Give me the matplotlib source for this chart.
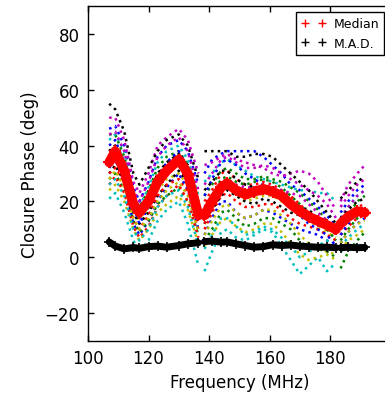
import numpy as np
import matplotlib
matplotlib.use("Agg")
import matplotlib.pyplot as plt
from matplotlib.lines import Line2D

# Frecuencias de anclaje (MHz) por sub-banda
freq_a = [107, 109, 112, 115, 117, 120, 123, 126, 130, 133, 136.5]
freq_b = [138.5, 141, 144, 146, 149, 152, 155, 158, 161, 164, 167, 170, 173, 176, 179, 182]
freq_c = [183.5, 186, 189, 191.5]

# Fases de cierre (grados), orden de color b g r c m y k
tri_b1 = [46, 47, 40, 25, 20, 27, 36, 40, 42, 38, 26, 30, 35, 37, 38, 38, 38, 38, 36, 33, 30, 26, 24, 21, 18, 15, 11, 16, 20, 24, 26]
tri_g1 = [44, 44, 36, 22, 18, 24, 32, 36, 38, 33, 20, 22, 26, 31, 32, 30, 28, 28, 29, 28, 27, 25, 23, 20, 17, 13, 9, 10, 15, 20, 22]
tri_r1 = [38, 40, 33, 20, 16, 22, 30, 33, 37, 32, 18, 20, 24, 30, 31, 28, 26, 26, 27, 26, 24, 22, 19, 16, 14, 12, 10, 12, 15, 18, 19]
tri_c1 = [42, 44, 38, 22, 18, 25, 34, 38, 40, 35, 22, 27, 30, 34, 35, 33, 31, 29, 28, 27, 26, 25, 24, 24, 23, 23, 20, 14, 18, 22, 24]
tri_m1 = [50, 50, 42, 27, 23, 30, 40, 43, 46, 42, 30, 33, 34, 36, 37, 35, 34, 33, 32, 30, 29, 30, 31, 30, 27, 22, 17, 20, 26, 30, 33]
tri_y1 = [34, 36, 29, 17, 13, 17, 24, 28, 30, 26, 14, 14, 19, 24, 25, 22, 20, 21, 22, 22, 20, 18, 15, 13, 11, 9, 7, 11, 14, 17, 18]
tri_k1 = [55, 53, 45, 30, 26, 32, 38, 42, 44, 40, 28, 38, 38, 38, 38, 36, 36, 37, 37, 36, 33, 30, 27, 24, 20, 16, 12, 21, 24, 27, 29]
tri_b2 = [32, 35, 27, 12, 8, 13, 20, 25, 30, 24, 10, 8, 14, 20, 20, 16, 14, 15, 17, 16, 14, 12, 10, 9, 8, 6, 4, 5, 9, 12, 14]
tri_g2 = [28, 30, 24, 13, 9, 13, 19, 22, 25, 20, 8, 6, 10, 16, 17, 14, 11, 12, 14, 14, 12, 10, 6, 3, 3, 2, 0, -4, 2, 6, 9]
tri_r2 = [26, 29, 23, 11, 7, 11, 18, 22, 26, 20, 7, 10, 16, 22, 23, 20, 18, 18, 19, 19, 17, 14, 12, 11, 10, 8, 6, 8, 11, 14, 15]
tri_c2 = [21, 23, 16, 6, 2, 6, 13, 17, 20, 12, -3, -5, 2, 9, 10, 7, 6, 8, 10, 9, 4, -1, -6, -3, 0, -5, -2, 2, 4, 4, 5]
tri_m2 = [36, 38, 30, 18, 14, 19, 26, 30, 33, 30, 17, 18, 22, 27, 28, 26, 25, 25, 26, 25, 24, 23, 22, 19, 16, 13, 10, 14, 18, 22, 24]
tri_y2 = [24, 26, 20, 10, 6, 10, 16, 19, 22, 17, 5, 4, 8, 13, 14, 11, 9, 10, 12, 12, 9, 5, 1, -1, 0, 1, -1, 3, 6, 8, 10]
tri_k2 = [30, 33, 27, 16, 12, 16, 22, 26, 31, 27, 13, 12, 17, 22, 24, 22, 20, 19, 21, 20, 18, 16, 15, 16, 14, 12, 9, 13, 15, 17, 17]
tri_b3 = [40, 42, 34, 18, 12, 18, 28, 34, 38, 32, 18, 22, 28, 34, 35, 33, 30, 28, 26, 24, 22, 18, 15, 12, 10, 8, 4, 8, 12, 16, 18]
tri_g3 = [36, 38, 31, 19, 15, 20, 28, 32, 34, 29, 14, 16, 22, 28, 29, 27, 26, 27, 28, 27, 25, 22, 19, 15, 12, 10, 6, 6, 10, 14, 16]
tri_r3 = [30, 32, 26, 14, 10, 15, 22, 26, 28, 23, 10, 12, 18, 26, 26, 23, 21, 22, 23, 23, 21, 19, 17, 15, 13, 11, 8, 10, 13, 15, 16]
tri_c3 = [26, 28, 22, 10, 6, 10, 18, 22, 24, 18, 4, 3, 8, 14, 14, 11, 8, 9, 11, 10, 7, 4, 0, 2, 4, 6, 3, 4, 7, 10, 12]
tri_m3 = [44, 45, 38, 24, 20, 27, 36, 40, 43, 38, 24, 26, 30, 35, 36, 34, 32, 32, 33, 32, 30, 28, 26, 24, 22, 19, 14, 18, 22, 26, 28]
tri_y3 = [28, 31, 25, 14, 10, 14, 20, 24, 27, 22, 9, 8, 13, 18, 19, 16, 14, 15, 17, 17, 15, 12, 8, 5, 3, 2, 1, 5, 9, 12, 13]
tri_k3 = [38, 40, 33, 21, 17, 22, 30, 34, 37, 33, 20, 24, 27, 31, 31, 28, 26, 25, 25, 24, 22, 20, 18, 17, 14, 12, 9, 14, 17, 20, 21]

median = [34, 38, 31, 19, 16, 20, 27, 31, 35, 30, 15, 15, 20, 25, 26.5, 24, 22.5, 23.5, 24.5, 23.5, 22, 19, 16.5, 14.5, 13, 11.5, 10, 12, 14.5, 16.5, 16]
mad = [5.5, 4, 3, 3.5, 3.2, 3.8, 4, 3.6, 4.2, 4.8, 5.2, 5.6, 5.8, 5.4, 5.5, 4.8, 4.2, 3.6, 3.8, 4.5, 4.2, 4.4, 4, 3.8, 3.6, 3.6, 3.4, 3.4, 3.6, 3.4, 3.5]

triads = [tri_b1, tri_g1, tri_r1, tri_c1, tri_m1, tri_y1, tri_k1,
          tri_b2, tri_g2, tri_r2, tri_c2, tri_m2, tri_y2, tri_k2,
          tri_b3, tri_g3, tri_r3, tri_c3, tri_m3, tri_y3, tri_k3]
colors = ["b", "g", "r", "c", "m", "y", "k"]


def con_huecos(vals):
    # separar sub-bandas con NaN para cortar las lineas
    na, nb = len(freq_a), len(freq_b)
    return np.concatenate([vals[:na], [np.nan], vals[na:na + nb], [np.nan], vals[na + nb:]])


freq = con_huecos(freq_a + freq_b + freq_c)

plt.rcParams["font.family"] = "DejaVu Sans"
fig = plt.figure(figsize=(3.85, 4.02), dpi=100)
# el eje derecho queda fuera de la imagen, como en la original recortada
ax = fig.add_axes([88 / 385, 1 - 342 / 402, 302.5 / 385, 335 / 402])

for i, t in enumerate(triads):
    ax.plot(freq, con_huecos(t), ls=":", lw=1.8, color=colors[i % 7])

ax.plot(freq, con_huecos(median), "-", color="r", lw=7, solid_capstyle="round")
ax.plot(freq, con_huecos(median), "+", color="r", ms=9, mew=1.5)
ax.plot(freq, con_huecos(mad), "-", color="k", lw=5, solid_capstyle="round")
ax.plot(freq, con_huecos(mad), "+", color="k", ms=7, mew=1.2)

ax.set_xlim(100, 200)
ax.set_ylim(-30, 90)
ax.set_xticks([100, 120, 140, 160, 180])
ax.set_yticks([-20, 0, 20, 40, 60, 80])
ax.tick_params(direction="in", top=True, right=True, length=4, width=1, labelsize=12, pad=6)
for s in ax.spines.values():
    s.set_linewidth(1)
ax.set_xlabel("Frequency (MHz)", fontsize=12)
ax.set_ylabel("Closure Phase (deg)", fontsize=12)

handles = [Line2D([], [], ls="none", marker="+", color="r", ms=6),
           Line2D([], [], ls="none", marker="+", color="k", ms=6)]
leg = ax.legend(handles, ["Median", "M.A.D."], loc="upper right", numpoints=2,
                fontsize=9, fancybox=False, framealpha=1, edgecolor="k",
                borderaxespad=0.5, handlelength=2, handletextpad=0.6, borderpad=0.4)
leg.get_frame().set_linewidth(1)

fig.savefig("out.png", dpi=100)
